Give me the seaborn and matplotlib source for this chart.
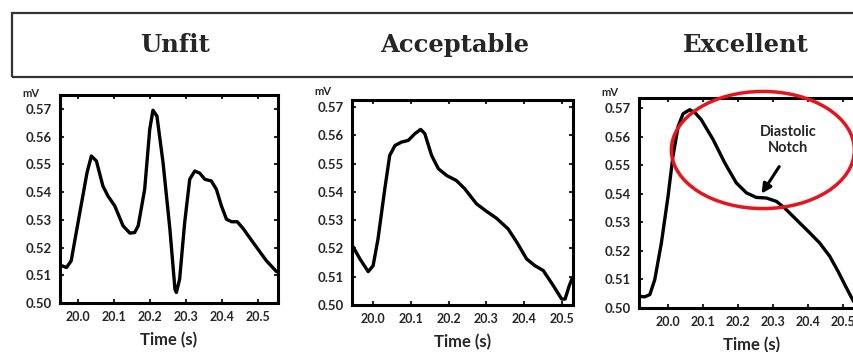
import matplotlib
matplotlib.use("Agg")
import matplotlib.pyplot as plt
import seaborn as sns
from matplotlib.patches import Ellipse, Rectangle

sns.set_style("ticks")
plt.rcParams['font.family'] = ['Lato', 'DejaVu Sans']

titles = ["Unfit", "Acceptable", "Excellent"]
yticks = [0.50, 0.51, 0.52, 0.53, 0.54, 0.55, 0.56, 0.57]
xticks = [20.0, 20.1, 20.2, 20.3, 20.4, 20.5]

t_unfit = [19.956, 19.968, 19.981, 20.005, 20.025, 20.037, 20.051, 20.069, 20.083, 20.102,
           20.125, 20.144, 20.157, 20.167, 20.185, 20.199, 20.208, 20.219, 20.236, 20.255,
           20.269, 20.273, 20.282, 20.296, 20.310, 20.324, 20.338, 20.352, 20.370, 20.384,
           20.398, 20.412, 20.426, 20.442, 20.458, 20.486, 20.523, 20.551]
v_unfit = [0.5134, 0.5128, 0.5152, 0.5326, 0.5470, 0.5530, 0.5512, 0.5422, 0.5386, 0.5350,
           0.5278, 0.5252, 0.5254, 0.5278, 0.5410, 0.5626, 0.5695, 0.5674, 0.5506, 0.5266,
           0.5050, 0.5038, 0.5086, 0.5290, 0.5446, 0.5476, 0.5468, 0.5446, 0.5440, 0.5410,
           0.5350, 0.5302, 0.5293, 0.5293, 0.5269, 0.5218, 0.5152, 0.5113]

t_accept = [19.945, 19.965, 19.987, 20.000, 20.013, 20.031, 20.044, 20.058, 20.075, 20.093,
            20.111, 20.126, 20.137, 20.155, 20.173, 20.195, 20.221, 20.243, 20.274, 20.301,
            20.327, 20.358, 20.381, 20.407, 20.429, 20.451, 20.478, 20.500, 20.509, 20.520, 20.527]
v_accept = [0.5210, 0.5163, 0.5118, 0.5139, 0.5234, 0.5411, 0.5529, 0.5564, 0.5576, 0.5582,
            0.5606, 0.5621, 0.5606, 0.5529, 0.5482, 0.5458, 0.5440, 0.5411, 0.5358, 0.5331,
            0.5307, 0.5269, 0.5222, 0.5163, 0.5139, 0.5122, 0.5068, 0.5021, 0.5021, 0.5068, 0.5092]

t_excel = [19.919, 19.933, 19.948, 19.962, 19.981, 20.000, 20.014, 20.029, 20.043, 20.062,
           20.076, 20.095, 20.129, 20.162, 20.195, 20.224, 20.252, 20.281, 20.310, 20.333,
           20.367, 20.405, 20.433, 20.462, 20.486, 20.510, 20.530]
v_excel = [0.5041, 0.5039, 0.5047, 0.5099, 0.5228, 0.5391, 0.5531, 0.5636, 0.5680, 0.5694,
           0.5685, 0.5659, 0.5589, 0.5508, 0.5438, 0.5403, 0.5387, 0.5385, 0.5373, 0.5350,
           0.5309, 0.5263, 0.5228, 0.5181, 0.5128, 0.5070, 0.5023]

fig = plt.figure(figsize=(8.54, 3.52), dpi=100)

# header box
fig.add_artist(Rectangle((12/854, 1-77/352), 0.99, 64/352, transform=fig.transFigure,
                         fill=False, edgecolor='#333333', linewidth=1.6))
for title, xc in zip(titles, [175, 455, 746]):
    fig.text(xc/854, 1-45/352, title, ha='center', va='center', fontsize=17.5,
             fontweight='bold', family=['DejaVu Serif'])

positions = [
    [60/854, 49/352, 218/854, 208/352],
    [352/854, 47/352, 221/854, 205/352],
    [639/854, 44/352, 225/854, 210/352],
]
xlims = [(19.95, 20.555), (19.944, 20.53), (19.917, 20.56)]
ylims = [(0.50, 0.575), (0.50, 0.5725), (0.50, 0.5735)]
series = [(t_unfit, v_unfit), (t_accept, v_accept), (t_excel, v_excel)]

axes = []
for pos, xl, yl, (t, v) in zip(positions, xlims, ylims, series):
    ax = fig.add_axes(pos)
    sns.lineplot(x=t, y=v, ax=ax, color='black', linewidth=2.4, sort=False,
                 solid_joinstyle='round', solid_capstyle='round')
    ax.set_xlim(*xl)
    ax.set_ylim(*yl)
    ax.set_xticks(xticks)
    ax.set_xticklabels([f"{x:.1f}" for x in xticks])
    ax.set_yticks(yticks)
    ax.set_yticklabels([f"{y:.2f}" for y in yticks])
    ax.tick_params(direction='in', length=3, width=1.5, top=True, right=True, pad=6)
    ax.tick_params(axis='y', labelsize=9.5)
    ax.tick_params(axis='x', labelsize=9)
    for lab in ax.get_xticklabels() + ax.get_yticklabels():
        lab.set_fontweight('bold')
    for s in ax.spines.values():
        s.set_linewidth(2.2)
        s.set_color('black')
    ax.set_xlabel("Time (s)", fontsize=12, fontweight='bold', labelpad=6)
    ax.set_ylabel("")
    ax.annotate("mV", xy=(0, yticks[-1]), xycoords=('axes fraction', 'data'),
                xytext=(-21, 11), textcoords='offset points', fontsize=8,
                fontweight='bold', ha='center', va='center', annotation_clip=False)
    axes.append(ax)

ax3 = axes[2]
ax3.add_patch(Ellipse((20.271, 0.5553), 0.523, 0.041, fill=False, edgecolor='#e8141c',
                      linewidth=2.5, clip_on=False, zorder=5))
ax3.text(20.343, 0.5588, "Diastolic\nNotch", ha='center', va='center', fontsize=10.5,
         fontweight='bold', linespacing=1.1)
ax3.annotate("", xy=(20.263, 0.5392), xytext=(20.322, 0.5503),
             arrowprops=dict(arrowstyle='-|>', color='black', lw=2.2, mutation_scale=14))

fig.savefig("out.png", dpi=100)
